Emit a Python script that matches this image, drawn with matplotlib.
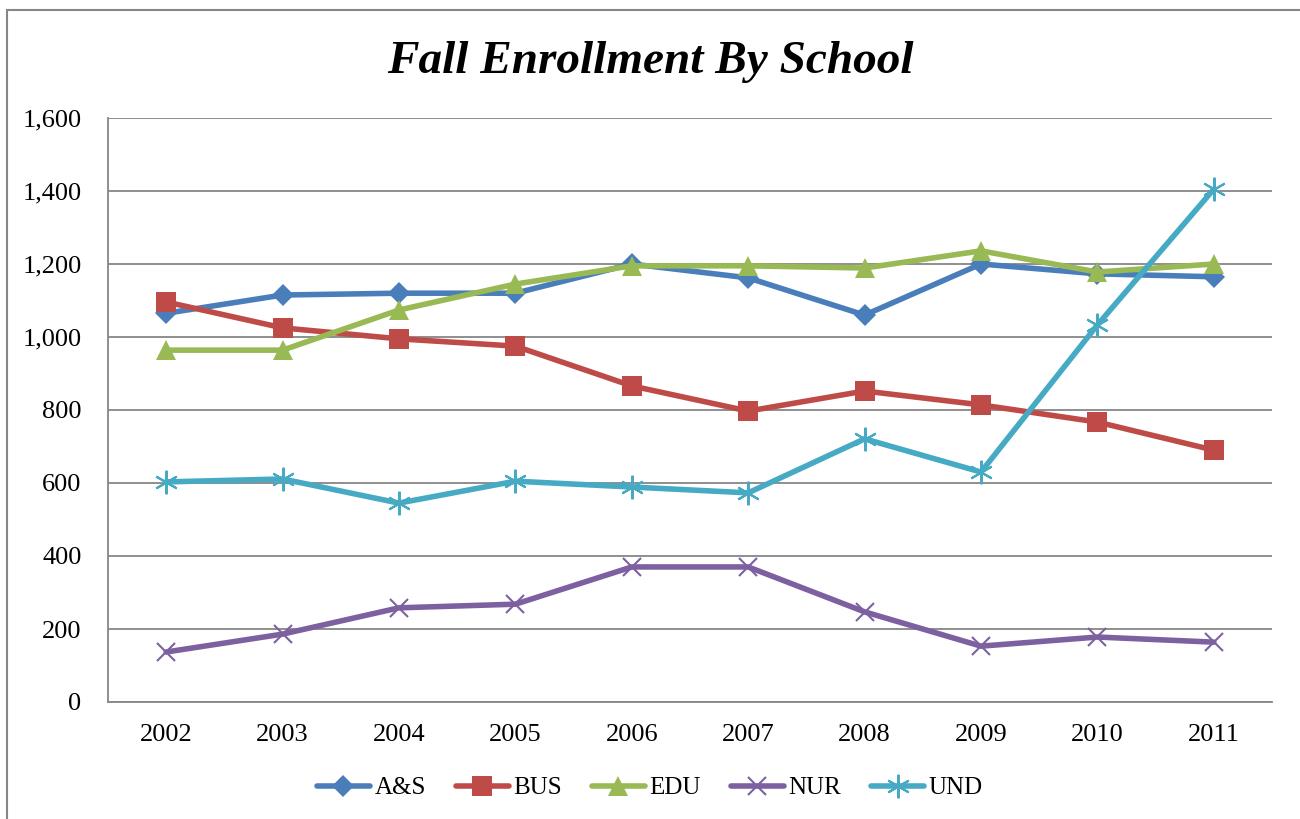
import matplotlib
matplotlib.use("Agg")
import matplotlib.pyplot as plt
from matplotlib.ticker import FuncFormatter

# Fall enrollment by school
years = [2002, 2003, 2004, 2005, 2006, 2007, 2008, 2009, 2010, 2011]
a_s = [1065, 1115, 1120, 1120, 1200, 1162, 1060, 1200, 1173, 1165]
bus = [1096, 1025, 995, 975, 866, 797, 852, 814, 767, 690]
edu = [964, 964, 1074, 1145, 1195, 1195, 1189, 1236, 1178, 1200]
nur = [137, 186, 258, 268, 370, 370, 247, 153, 178, 164]
und = [603, 611, 545, 605, 589, 573, 721, 630, 1033, 1405]

plt.rcParams['font.family'] = ['Liberation Serif', 'DejaVu Serif']

fig = plt.figure(figsize=(13, 8.19), dpi=100)
ax = fig.add_axes([108 / 1300, 1 - 702 / 819, (1272 - 108) / 1300, (702 - 118) / 819])

x = list(range(len(years)))
series = [
    ("A&S", a_s, "#4a7ebb", "D", 11),
    ("BUS", bus, "#be4b48", "s", 14),
    ("EDU", edu, "#98b954", "^", 15),
    ("NUR", nur, "#7d60a0", "x", 13),
    ("UND", und, "#46aac5", (6, 2, 0), 17),
]
for name, vals, color, marker, ms in series:
    ax.plot(x, vals, color=color, lw=4, marker=marker, markersize=ms,
            markeredgewidth=1.5 if marker in ("x", (6, 2, 0)) else 0,
            markeredgecolor=color, label=name, solid_capstyle="round")

ax.set_xlim(-0.5, len(years) - 0.5)
ax.set_ylim(0, 1600)
ax.set_yticks(range(0, 1601, 200))
ax.yaxis.set_major_formatter(FuncFormatter(lambda v, p: f"{int(v):,}"))
ax.set_xticks(x)
ax.set_xticklabels([str(y) for y in years])
ax.grid(axis="y", color="#868686", lw=1.3)
ax.set_axisbelow(True)
for s in ["top", "right"]:
    ax.spines[s].set_visible(False)
ax.spines["left"].set_color("#868686")
ax.spines["bottom"].set_color("#868686")
ax.spines["left"].set_linewidth(1.3)
ax.spines["bottom"].set_linewidth(1.3)
ax.tick_params(axis="y", labelsize=19, length=0, pad=19)
ax.tick_params(axis="x", labelsize=19, length=0, pad=16)

fig.text(0.5, 1 - 62 / 819, "Fall Enrollment By School", ha="center", va="center",
         fontsize=34, fontweight="bold", fontstyle="italic")

leg = fig.legend(loc="center", bbox_to_anchor=(0.5, 1 - 788 / 819), ncol=5,
                 frameon=False, fontsize=18, handlelength=2.1, columnspacing=1.2,
                 handletextpad=0.2)

# outer chart border
fig.patches.append(plt.Rectangle((0.005, -0.01), 1.1, 1 - 10 / 819 + 0.01,
                                 transform=fig.transFigure, fill=False,
                                 edgecolor="#868686", lw=1.5))

fig.savefig("out.png", dpi=100)
